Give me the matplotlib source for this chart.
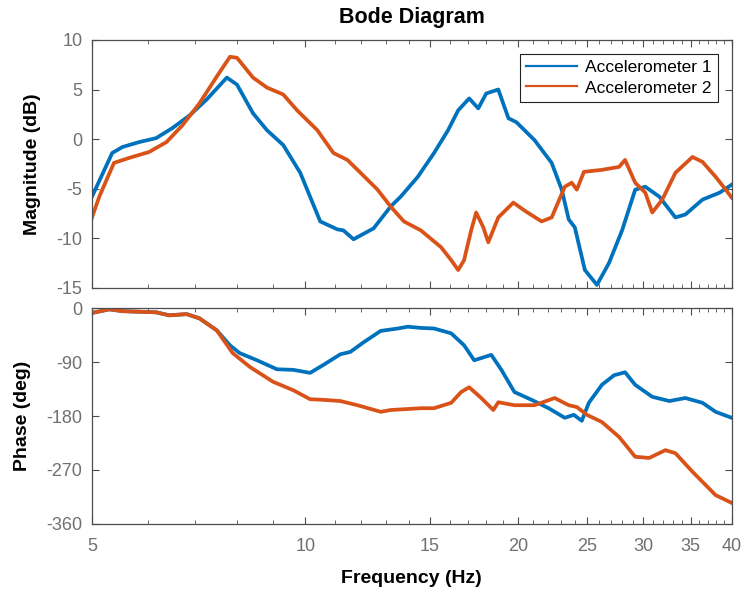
import numpy as np
import matplotlib
matplotlib.use("Agg")
from matplotlib import pyplot as plt
from matplotlib.ticker import FixedLocator, NullFormatter

# Accelerometer 1 magnitude (Hz, dB)
mag1_freq = [5.00, 5.34, 5.52, 5.83, 6.16, 6.49, 6.87, 7.26, 7.75, 8.01, 8.44, 8.83,
             9.31, 9.84, 10.50, 11.10, 11.32, 11.70, 12.49, 13.20, 13.64, 14.42, 15.20,
             15.91, 16.44, 17.04, 17.55, 18.01, 18.73, 19.36, 19.87, 21.07, 22.28, 23.02,
             23.55, 24.02, 24.82, 25.81, 26.84, 28.01, 29.23, 30.20, 31.61, 33.31, 34.41,
             36.38, 38.46, 40.00]
mag1_db = [-5.8, -1.4, -0.8, -0.3, 0.1, 1.1, 2.4, 4.0, 6.2, 5.5, 2.6, 0.9,
           -0.6, -3.4, -8.3, -9.1, -9.2, -10.1, -9.0, -6.8, -5.8, -3.8, -1.4,
           0.9, 2.9, 4.1, 3.1, 4.6, 5.0, 2.1, 1.7, -0.1, -2.4, -5.1,
           -8.1, -8.9, -13.2, -14.7, -12.5, -9.2, -5.1, -4.8, -5.8, -7.9, -7.6,
           -6.1, -5.4, -4.6]

# Accelerometer 2 magnitude (Hz, dB)
mag2_freq = [5.00, 5.12, 5.37, 5.64, 6.02, 6.37, 6.71, 7.09, 7.50, 7.83, 8.01, 8.44,
             8.83, 9.31, 9.74, 10.40, 10.96, 11.47, 11.97, 12.65, 13.20, 13.78, 14.56,
             15.55, 16.07, 16.44, 16.76, 17.15, 17.43, 17.84, 18.13, 18.73, 19.67, 20.39,
             21.56, 22.28, 23.25, 23.78, 24.18, 24.74, 26.23, 27.74, 28.28, 29.23, 30.20,
             30.90, 31.92, 33.31, 35.21, 36.38, 37.96, 39.23, 40.00]
mag2_db = [-7.9, -5.8, -2.4, -1.9, -1.3, -0.3, 1.4, 3.6, 6.3, 8.3, 8.2, 6.2,
           5.2, 4.5, 2.9, 0.9, -1.4, -2.1, -3.4, -5.1, -6.8, -8.3, -9.2,
           -10.9, -12.2, -13.2, -12.2, -9.2, -7.4, -8.9, -10.4, -7.9, -6.4, -7.2,
           -8.3, -7.9, -4.8, -4.4, -5.1, -3.3, -3.1, -2.8, -2.1, -4.4, -5.4,
           -7.4, -6.1, -3.4, -1.8, -2.3, -3.8, -5.1, -5.9]

# Accelerometer 1 phase (Hz, deg)
ph1_freq = [5.00, 5.29, 5.52, 6.16, 6.43, 6.80, 7.09, 7.50, 7.83, 8.08, 8.55, 9.12,
            9.62, 10.16, 10.60, 11.21, 11.58, 12.09, 12.78, 13.51, 13.96, 14.56, 15.20,
            16.07, 16.76, 17.32, 18.31, 18.92, 19.74, 20.87, 22.06, 23.25, 23.94, 24.57,
            25.14, 26.23, 27.29, 28.28, 29.23, 30.90, 32.66, 34.41, 36.38, 37.96, 40.00]
ph1_deg = [-8, -2, -5, -7, -12, -10, -17, -37, -62, -75, -87, -102,
           -103, -108, -95, -77, -73, -57, -38, -34, -31, -33, -34,
           -42, -62, -87, -78, -103, -140, -153, -167, -183, -178, -188,
           -158, -128, -112, -107, -128, -148, -155, -150, -158, -173, -183]

# Accelerometer 2 phase (Hz, deg)
ph2_freq = [5.00, 5.29, 5.52, 6.16, 6.43, 6.80, 7.09, 7.50, 7.90, 8.35, 9.01, 9.62,
            10.16, 10.60, 11.21, 11.85, 12.78, 13.20, 14.56, 15.20, 16.07, 16.60, 17.04,
            17.72, 18.43, 18.73, 19.74, 21.07, 22.50, 23.55, 24.18, 24.98, 26.23, 27.74,
            29.23, 30.59, 32.24, 33.31, 35.21, 37.96, 40.00]
ph2_deg = [-8, -2, -5, -7, -12, -10, -17, -37, -75, -98, -123, -137,
           -152, -153, -155, -162, -173, -170, -167, -167, -158, -140, -132,
           -150, -170, -157, -162, -162, -150, -162, -165, -178, -190, -215,
           -248, -250, -237, -242, -273, -312, -325]

series_names = ["Accelerometer 1", "Accelerometer 2"]
x_ticks = [5, 10, 15, 20, 25, 30, 35, 40]
mag_ticks = [-15, -10, -5, 0, 5, 10]
phase_ticks = [-360, -270, -180, -90, 0]

blue = "#0072BD"
orange = "#D95319"
axis_grey = "#4d4d4d"
label_grey = "#707070"

plt.rcParams["font.family"] = ["Liberation Sans", "DejaVu Sans"]
plt.rcParams["axes.unicode_minus"] = False

fig = plt.figure(figsize=(7.43, 5.96), dpi=100)
ax_mag = fig.add_axes([0.1238, 0.517, 0.861, 0.416])
ax_ph = fig.add_axes([0.1238, 0.121, 0.861, 0.362])

ax_mag.plot(mag1_freq, mag1_db, color=blue, lw=2.7, label=series_names[0])
ax_mag.plot(mag2_freq, mag2_db, color=orange, lw=2.7, label=series_names[1])
ax_ph.plot(ph1_freq, ph1_deg, color=blue, lw=2.7)
ax_ph.plot(ph2_freq, ph2_deg, color=orange, lw=2.7)

minor = [f for f in range(6, 40) if f not in x_ticks]
for ax in (ax_mag, ax_ph):
    ax.set_xscale("log")
    ax.set_xlim(5, 40)
    ax.xaxis.set_major_locator(FixedLocator(x_ticks))
    ax.xaxis.set_minor_locator(FixedLocator(minor))
    ax.xaxis.set_minor_formatter(NullFormatter())
    ax.tick_params(which="both", direction="in", top=True, right=True,
                   color=axis_grey, labelcolor=label_grey, labelsize=13)
    ax.tick_params(which="major", length=5, width=0.8)
    ax.tick_params(which="minor", length=3, width=0.6)
    ax.tick_params(axis="y", pad=7)
    for sp in ax.spines.values():
        sp.set_color(axis_grey)
        sp.set_linewidth(0.9)

ax_mag.set_ylim(-15, 10)
ax_mag.set_yticks(mag_ticks)
ax_mag.xaxis.set_major_formatter(NullFormatter())
ax_mag.set_ylabel("Magnitude (dB)", fontsize=14, fontweight="bold")
ax_mag.yaxis.set_label_coords(-0.08, 0.5)
ax_mag.set_title("Bode Diagram", fontsize=15.5, fontweight="bold", pad=12)

ax_ph.set_ylim(-360, 0)
ax_ph.set_yticks(phase_ticks)
ax_ph.set_xticklabels([str(t) for t in x_ticks])
ax_ph.set_ylabel("Phase (deg)", fontsize=14, fontweight="bold")
ax_ph.yaxis.set_label_coords(-0.096, 0.5)
ax_ph.set_xlabel("Frequency (Hz)", fontsize=14, fontweight="bold")
ax_ph.xaxis.set_label_coords(0.5, -0.215)
ax_ph.tick_params(axis="x", pad=10)

leg = ax_mag.legend(loc="upper right", bbox_to_anchor=(0.9786, 0.9435), fontsize=12.5,
                    fancybox=False, framealpha=1, edgecolor="#222222",
                    handlelength=2.9, handletextpad=0.5, borderaxespad=0,
                    borderpad=0.35, labelspacing=0.3)
leg.get_frame().set_linewidth(0.8)
for line in leg.get_lines():
    line.set_linewidth(1.6)

fig.savefig("out.png", dpi=100)
